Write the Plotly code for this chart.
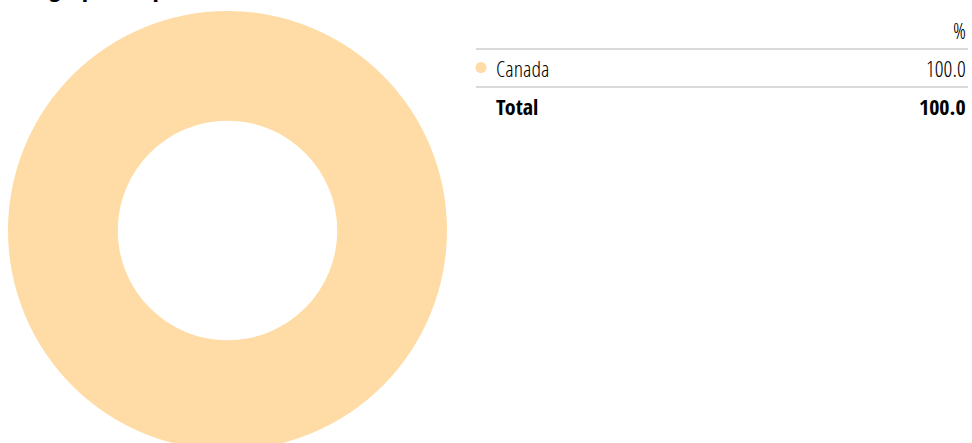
import plotly.graph_objects as go

# Portfolio weights by country (%)
countries = ["Canada"]
weights = [100.0]
colors = ["#FFDBA5"]

title_text = "Geographic Exposure"
header_unit = "%"
total_label = "Total"

W, H = 972, 460
FONT_REG = "Open Sans Condensed Light, DejaVu Sans Condensed, sans-serif"
FONT_BOLD = "Open Sans Condensed, DejaVu Sans Condensed, sans-serif"
TEXT = "#000000"
RULE = "#d9d9d9"
FS = 22


def px(x):
    return x / W


def py(y):
    return 1 - y / H


fig = go.Figure()

# Donut
cx, cy, r = 227.5, 230.5, 219.5
fig.add_trace(go.Pie(
    labels=countries,
    values=weights,
    hole=0.5,
    sort=False,
    direction="clockwise",
    textinfo="none",
    hoverinfo="label+percent",
    marker=dict(colors=colors, line=dict(width=0)),
    showlegend=False,
    domain=dict(x=[px(cx - r), px(cx + r)], y=[py(cy + r), py(cy - r)]),
))

annotations = []
shapes = []

# Title (sits at the very top edge)
annotations.append(dict(
    text=title_text, x=px(8), y=py(-13.5), xref="paper", yref="paper",
    xanchor="left", yanchor="middle", showarrow=False,
    font=dict(family=FONT_BOLD, size=26, color="#000"),
))

# Table on the right
left, right = 476, 968
label_x = 494
row_h = 38
header_y = 29.5
first_rule = 49

annotations.append(dict(
    text=header_unit, x=px(right), y=py(header_y), xref="paper", yref="paper",
    xanchor="right", yanchor="middle", showarrow=False,
    font=dict(family=FONT_REG, size=FS, color=TEXT),
))
shapes.append(dict(type="line", xref="paper", yref="paper",
                   x0=px(left), x1=px(right), y0=py(first_rule), y1=py(first_rule),
                   line=dict(color=RULE, width=2)))

for i, (name, val, col) in enumerate(zip(countries, weights, colors)):
    yc = first_rule + row_h * i + 18.5
    shapes.append(dict(type="circle", xref="paper", yref="paper",
                       x0=px(475.5), x1=px(486.5), y0=py(yc - 5.5), y1=py(yc + 5.5),
                       fillcolor=col, line=dict(width=0)))
    annotations.append(dict(
        text=name, x=px(label_x), y=py(yc), xref="paper", yref="paper",
        xanchor="left", yanchor="middle", showarrow=False,
        font=dict(family=FONT_REG, size=FS, color=TEXT),
    ))
    annotations.append(dict(
        text=f"{val:.1f}", x=px(right), y=py(yc), xref="paper", yref="paper",
        xanchor="right", yanchor="middle", showarrow=False,
        font=dict(family=FONT_REG, size=FS, color=TEXT),
    ))
    ry = first_rule + row_h * (i + 1)
    shapes.append(dict(type="line", xref="paper", yref="paper",
                       x0=px(left), x1=px(right), y0=py(ry), y1=py(ry),
                       line=dict(color=RULE, width=2)))

total_y = first_rule + row_h * len(countries) + 18.5
annotations.append(dict(
    text=total_label, x=px(label_x), y=py(total_y), xref="paper", yref="paper",
    xanchor="left", yanchor="middle", showarrow=False,
    font=dict(family=FONT_BOLD, size=FS, color="#000"),
))
annotations.append(dict(
    text=f"{sum(weights):.1f}", x=px(right), y=py(total_y), xref="paper", yref="paper",
    xanchor="right", yanchor="middle", showarrow=False,
    font=dict(family=FONT_BOLD, size=FS, color="#000"),
))

fig.update_layout(
    width=W, height=H,
    margin=dict(l=0, r=0, t=0, b=0),
    paper_bgcolor="white", plot_bgcolor="white",
    annotations=annotations, shapes=shapes,
)

fig.write_html("out.html", config={"displayModeBar": False})
